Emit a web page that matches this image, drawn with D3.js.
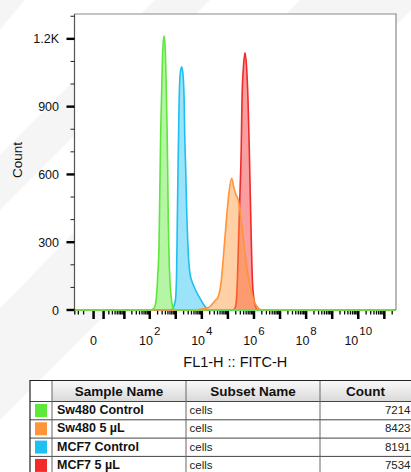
<!DOCTYPE html>
<html>
<head>
<meta charset="utf-8">
<script src="https://cdn.jsdelivr.net/npm/d3@7"></script>
<style>
  html, body { margin: 0; padding: 0; background: #fff; }
  svg { display: block; font-family: "Liberation Sans", Arial, sans-serif; }
</style>
</head>
<body>
<svg id="chart" width="411" height="472"></svg>
<script>
// Histogram samples: [FL1-H intensity, event count]
const sampleNames = ["Sw480 Control", "Sw480 5 µL", "MCF7 Control", "MCF7 5 µL"];
const subsetNames = ["cells", "cells", "cells", "cells"];
const sampleCounts = [7214, 8423, 8191, 7534];
const sampleColors = ["#5de83a", "#ff9438", "#1ec0f2", "#f22a2a"];

const sw480Control = [
  [100, 0], [130, 3], [156, 15], [181, 60], [203, 150], [228, 300], [249, 600],
  [265, 800], [282, 930], [317, 1150], [356, 1213], [396, 1150], [440, 930],
  [464, 800], [485, 650], [516, 400], [564, 200], [628, 90], [704, 35],
  [804, 8], [1004, 0]
];
const sw480Treated = [
  [5409, 0], [8416, 3], [13105, 6], [20404, 15], [26616, 30], [34717, 45],
  [42574, 59], [54098, 118], [70500, 266], [89535, 413], [109770, 520],
  [139380, 583], [170960, 540], [204030, 510], [250130, 487], [304060, 420],
  [369140, 340], [440770, 265], [526280, 192], [645360, 130], [818500, 75],
  [1004600, 40], [1253500, 18], [1563700, 6], [2040300, 0]
];
const mcf7Control = [
  [590, 0], [769, 8], [960, 40], [1069, 150], [1146, 400], [1231, 650],
  [1346, 930], [1496, 1050], [1679, 1076], [1867, 1050], [2095, 930],
  [2229, 750], [2372, 650], [2613, 450], [2986, 265], [3471, 165],
  [4143, 128], [5409, 95], [7049, 68], [9190, 45], [11992, 22], [15638, 6],
  [22293, 0]
];
const mcf7Treated = [
  [143260, 0], [178650, 4], [204030, 25], [228980, 118], [254650, 300],
  [290740, 520], [323380, 708], [347210, 930], [396420, 1080], [452820, 1138],
  [516770, 1080], [590510, 930], [662560, 708], [724040, 500], [791010, 300],
  [879840, 118], [1004600, 45], [1199200, 10], [1431900, 0]
];
const seriesData = [sw480Control, sw480Treated, mcf7Control, mcf7Treated];

// Axis ticks
const yMajorTicks = [0, 300, 600, 900, 1200];
const yTickLabels = ["0", "300", "600", "900", "1.2K"];
const yMinorTicks = [100, 200, 400, 500, 700, 800, 1000, 1100, 1300];
const xLabelTicks = [0, 1e2, 1e4, 1e6, 1e8, 1e10];
const xLabelExponents = [null, "2", "4", "6", "8", "10"];

const svg = d3.select("#chart");
const W = 411, H = 472;
const plot = { left: 74.5, top: 14, right: 396, bottom: 310 };

// faint diagonal background stripes
const stripes = [
  [[-40, 0], [25, 0], [-60, 100]],
  [[155, 0], [210, 0], [-60, 270], [-60, 215]],
  [[300, 0], [411, 0], [411, 10], [-60, 480], [-60, 370]]
];
svg.append("g").selectAll("path").data(stripes).join("path")
  .attr("d", d => "M" + d.map(p => p.join(",")).join("L") + "Z")
  .attr("fill", "#f5f5f5");

// biexponential-like display for fluorescence intensity
const x = d3.scaleSymlog().constant(0.705)
  .domain([-3.1, 2.8e11])
  .range([plot.left, plot.right]);
const y = d3.scaleLinear().domain([0, 1310]).range([plot.bottom, plot.top]);

svg.append("rect")
  .attr("x", plot.left).attr("y", plot.top)
  .attr("width", plot.right - plot.left).attr("height", plot.bottom - plot.top)
  .attr("fill", "#fff");

// histograms, first sample drawn on top
const area = d3.area().x(d => x(d[0])).y0(y(0)).y1(d => y(d[1])).curve(d3.curveMonotoneX);
const line = d3.line().x(d => x(d[0])).y(d => y(d[1])).curve(d3.curveMonotoneX);
const [x0, x1] = x.domain();
const order = [3, 2, 1, 0];
const hist = svg.append("g");
order.forEach(i => {
  const pts = [[x0, 0], ...seriesData[i], [x1, 0]];
  hist.append("path").attr("d", area(pts))
    .attr("fill", sampleColors[i]).attr("fill-opacity", 0.45);
  hist.append("path").attr("d", line(pts))
    .attr("fill", "none").attr("stroke", sampleColors[i]).attr("stroke-width", 1.6);
});

// frame
svg.append("path")
  .attr("d", `M${plot.left},${plot.top}H${plot.right}V${plot.bottom}`)
  .attr("fill", "none").attr("stroke", "#8a8a8a").attr("stroke-width", 1.2);
svg.append("line")
  .attr("x1", plot.left).attr("x2", plot.left)
  .attr("y1", plot.top).attr("y2", plot.bottom)
  .attr("stroke", "#555").attr("stroke-width", 1.2);

// y axis
const yAxis = svg.append("g");
yAxis.selectAll("line.major").data(yMajorTicks).join("line")
  .attr("x1", plot.left - 8).attr("x2", plot.left)
  .attr("y1", d => y(d)).attr("y2", d => y(d))
  .attr("stroke", "#000").attr("stroke-width", 2.4);
yAxis.selectAll("line.minor").data(yMinorTicks).join("line")
  .attr("x1", plot.left - 4).attr("x2", plot.left)
  .attr("y1", d => y(d)).attr("y2", d => y(d))
  .attr("stroke", "#222").attr("stroke-width", 1);
yAxis.selectAll("text").data(yMajorTicks).join("text")
  .attr("x", plot.left - 15.5).attr("y", d => y(d) + 4.5)
  .attr("text-anchor", "end").attr("font-size", 12.5).attr("fill", "#111")
  .text((d, i) => yTickLabels[i]);
svg.append("text")
  .attr("transform", `translate(21.5,160) rotate(-90)`)
  .attr("text-anchor", "middle").attr("font-size", 13.5).attr("fill", "#111")
  .text("Count");

// x axis ticks: negative side, zero, then each decade with 2..9 minors
const xTicks = [];
[-1, -2, -3].forEach(v => { if (v >= x0) xTicks.push({ v, major: false }); });
xTicks.push({ v: 0, major: true });
for (let e = 0; e <= 11; e++) {
  for (let m = 1; m <= 9; m++) {
    const v = m * Math.pow(10, e);
    if (v <= x1) xTicks.push({ v, major: m === 1 });
  }
}
const xAxis = svg.append("g");
xAxis.selectAll("line").data(xTicks).join("line")
  .attr("x1", d => x(d.v)).attr("x2", d => x(d.v))
  .attr("y1", plot.bottom + 1).attr("y2", d => plot.bottom + (d.major ? 9 : 4.5))
  .attr("stroke", "#000").attr("stroke-width", d => d.major ? 2.5 : 1.3);

const xl = xAxis.selectAll("text").data(xLabelTicks).join("text")
  .attr("x", d => x(d)).attr("y", 345)
  .attr("text-anchor", "middle").attr("font-size", 12.5).attr("fill", "#111");
xl.each(function (d, i) {
  const t = d3.select(this);
  if (xLabelExponents[i] === null) { t.text("0"); return; }
  t.append("tspan").text("10");
  t.append("tspan").attr("dy", -10).attr("dx", 1).attr("font-size", 11.5).text(xLabelExponents[i]);
});
svg.append("text")
  .attr("x", (plot.left + plot.right) / 2).attr("y", 367)
  .attr("text-anchor", "middle").attr("font-size", 14.5).attr("fill", "#111")
  .text("FL1-H :: FITC-H");

// legend table
const cols = [30, 52, 186, 320, 411];
const rowTop = 380.5, headH = 21, rowH = 18.3;
const defs = svg.append("defs");
const grad = defs.append("linearGradient").attr("id", "hdr").attr("x1", 0).attr("x2", 0).attr("y1", 0).attr("y2", 1);
grad.append("stop").attr("offset", "0%").attr("stop-color", "#fafafa");
grad.append("stop").attr("offset", "100%").attr("stop-color", "#d9d9d9");

const table = svg.append("g");
table.append("rect").attr("x", cols[0]).attr("y", rowTop)
  .attr("width", cols[4] - cols[0] + 5).attr("height", headH + rowH * sampleNames.length + 2)
  .attr("fill", "#fff");
table.append("rect").attr("x", cols[1]).attr("y", rowTop)
  .attr("width", cols[4] - cols[1] + 5).attr("height", headH)
  .attr("fill", "url(#hdr)");
const headers = ["Sample Name", "Subset Name", "Count"];
headers.forEach((h, i) => {
  table.append("text")
    .attr("x", (cols[i + 1] + cols[i + 2]) / 2).attr("y", rowTop + 15)
    .attr("text-anchor", "middle").attr("font-size", 13.5).attr("font-weight", "bold")
    .attr("fill", "#111").text(h);
});
sampleNames.forEach((name, i) => {
  const top = rowTop + headH + i * rowH;
  table.append("rect").attr("x", cols[0] + 5).attr("y", top + 2.5)
    .attr("width", 12).attr("height", 13).attr("fill", sampleColors[i]);
  table.append("text").attr("x", cols[1] + 5).attr("y", top + 12.6)
    .attr("font-size", 12.5).attr("font-weight", "bold").attr("fill", "#111").text(name);
  table.append("text").attr("x", cols[2] + 3.5).attr("y", top + 12.6)
    .attr("font-size", 11.5).attr("fill", "#222").text(subsetNames[i]);
  table.append("text").attr("x", 410.5).attr("y", top + 12.6)
    .attr("text-anchor", "end").attr("font-size", 11.5).attr("fill", "#222").text(sampleCounts[i]);
});
// grid lines
for (let r = 0; r <= sampleNames.length; r++) {
  const yy = rowTop + headH + r * rowH;
  table.append("line").attr("x1", cols[0]).attr("x2", W)
    .attr("y1", yy).attr("y2", yy).attr("stroke", "#444").attr("stroke-width", 1);
}
cols.slice(1, 4).forEach(cx => {
  table.append("line").attr("x1", cx).attr("x2", cx)
    .attr("y1", rowTop).attr("y2", H).attr("stroke", "#666").attr("stroke-width", 1);
});
table.append("path")
  .attr("d", `M${cols[0]},${H}V${rowTop}H${W}`)
  .attr("fill", "none").attr("stroke", "#222").attr("stroke-width", 1.2);
</script>
</body>
</html>
